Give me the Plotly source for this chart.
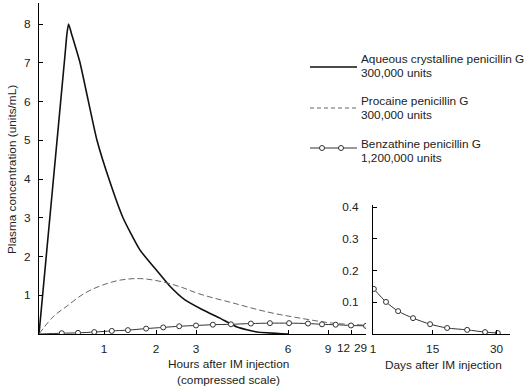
import numpy as np
import plotly.graph_objects as go

# ---- compressed hour scale (tick hours and their positions on the compressed axis)
TICK_HOURS = [0, 1, 2, 3, 6, 9, 12, 29]
TICK_POS = [0, 65, 117, 157, 249, 289, 312, 327]
TICK_SHOWN = [1, 2, 3, 6, 9, 12, 29]
TICK_TEXT = ["1", "2", "3", "6", "9", "12", "29"]

# ---- data (hours, units/mL)
aq_hours = [0, 0.2, 0.4, 0.43, 0.455, 0.5, 0.631, 0.754, 0.892, 1.115, 1.365, 1.69,
            2.025, 2.325, 2.725, 3.23, 3.78, 4.34, 4.99, 6.0]
aq_conc = [0, 3.6, 7.2, 7.75, 8.0, 7.75, 7.0, 6.05, 5.0, 3.92, 3.0, 2.17,
           1.63, 1.26, 0.88, 0.62, 0.41, 0.18, 0.05, 0.0]

pro_hours = [0, 0.215, 0.43, 0.68, 0.94, 1.31, 1.69, 2.1, 2.6, 3.13, 4.21, 5.32, 6.9, 9.65, 29]
pro_conc = [0, 0.44, 0.72, 1.03, 1.24, 1.39, 1.43, 1.36, 1.22, 1.03, 0.8, 0.57, 0.41, 0.28, 0.23]

bz_hours = [0.35, 0.6, 0.85, 1.15, 1.46, 1.81, 2.18, 2.58, 3.0, 3.55, 4.14, 4.79, 5.41, 6.08, 7.5, 8.55, 10.0, 12.0, 29]
bz_conc = [0.02, 0.03, 0.05, 0.08, 0.10, 0.14, 0.17, 0.20, 0.22, 0.24, 0.25, 0.27, 0.28, 0.28, 0.27, 0.25, 0.24, 0.22, 0.21]

bz_days = [1.2, 4.05, 6.9, 10.4, 14.4, 18.4, 23.1, 27.3, 30.3]
bz_day_conc = [0.142, 0.101, 0.072, 0.05, 0.031, 0.019, 0.013, 0.006, 0.003]

legend_names = [("Aqueous crystalline penicillin G", "300,000 units"),
                ("Procaine penicillin G", "300,000 units"),
                ("Benzathine penicillin G", "1,200,000 units")]


def comp(h):
    return np.interp(h, TICK_HOURS, TICK_POS)


W, H = 528, 389
def px(x):
    return x / W
def py(y):
    return 1 - y / H

FONT = "Liberation Sans, Arial, sans-serif"
FS = 11.8
fig = go.Figure()

fig.add_trace(go.Scatter(x=comp(aq_hours), y=aq_conc, mode="lines",
                         line=dict(color="#111", width=1.6, shape="spline", smoothing=0.5),
                         xaxis="x", yaxis="y", showlegend=False))
fig.add_trace(go.Scatter(x=comp(pro_hours), y=pro_conc, mode="lines",
                         line=dict(color="#666", width=1, dash="6px,3px", shape="spline", smoothing=1),
                         xaxis="x", yaxis="y", showlegend=False))
fig.add_trace(go.Scatter(x=np.concatenate([[0], comp(bz_hours)]), y=[0] + bz_conc, mode="lines",
                         line=dict(color="#333", width=1, shape="spline", smoothing=0.8),
                         xaxis="x", yaxis="y", showlegend=False))
fig.add_trace(go.Scatter(x=comp(bz_hours), y=bz_conc, mode="markers",
                         marker=dict(symbol="circle", size=5, color="white", line=dict(color="#333", width=1)),
                         xaxis="x", yaxis="y", showlegend=False))

fig.add_trace(go.Scatter(x=bz_days, y=bz_day_conc, mode="lines+markers",
                         line=dict(color="#333", width=1, shape="spline", smoothing=0.8),
                         marker=dict(symbol="circle", size=5, color="white", line=dict(color="#333", width=1)),
                         xaxis="x2", yaxis="y2", showlegend=False))

axis_common = dict(showline=True, linecolor="black", linewidth=1, ticks="inside", ticklen=4,
                   tickcolor="black", showgrid=False, zeroline=False, automargin=False,
                   tickangle=0, tickfont=dict(family=FONT, size=FS, color="#222"))

# the last two hour labels are crowded: they are drawn as shifted annotations
main_ticktext = TICK_TEXT[:-2] + ["", ""]

fig.update_layout(
    width=W, height=H, margin=dict(l=0, r=0, t=0, b=0, autoexpand=False),
    paper_bgcolor="white", plot_bgcolor="white",
    xaxis=dict(axis_common, domain=[px(39), px(366)], range=[0, 327],
               tickvals=comp(TICK_SHOWN), ticktext=main_ticktext,
               anchor="y", ticklabelstandoff=4),
    yaxis=dict(axis_common, domain=[py(334), py(3)], range=[0, (334 - 3) / 38.75],
               tickvals=[1, 2, 3, 4, 5, 6, 7, 8], anchor="x", ticklabelstandoff=5),
    xaxis2=dict(axis_common, domain=[px(373), px(510)], range=[1, 1 + 137 / 4.26],
                tickvals=[1, 15, 30], anchor="y2", ticklabelstandoff=4),
    yaxis2=dict(axis_common, domain=[py(334), py(205)], range=[0, 129 / 317.5],
                tickvals=[0.1, 0.2, 0.3, 0.4], ticktext=["0.1", "0.2", "0.3", "0.4"],
                anchor="x2", ticklabelstandoff=11),
)

ann_font = dict(family=FONT, size=FS, color="#222")


def note(text, x, y, xanchor="center", **kw):
    return dict(text=text, x=x, y=y, xref=kw.pop("xref", "paper"), yref="paper",
                xanchor=xanchor, yanchor="middle", showarrow=False, font=ann_font, **kw)


annotations = [
    note("Plasma concentration (units/mL)", px(12), py(170), textangle=-90),
    note("Hours after IM injection", px(228), py(364)),
    note("(compressed scale)", px(228), py(380)),
    note("Days after IM injection", px(443), py(365)),
]
for val, txt, shift in ((TICK_SHOWN[-2], TICK_TEXT[-2], -8), (TICK_SHOWN[-1], TICK_TEXT[-1], -6)):
    annotations.append(note(txt, float(comp(val)), py(348), xref="x", xshift=shift))
legend_y = [(59, 73), (101, 115), (144, 158)]
for (l1, l2), (y1, y2) in zip(legend_names, legend_y):
    annotations.append(note(l1, px(359), py(y1), xanchor="left"))
    annotations.append(note(l2, px(359), py(y2), xanchor="left"))
fig.update_layout(annotations=annotations)

shapes = [
    dict(type="line", xref="paper", yref="paper", x0=px(310), x1=px(357), y0=py(67), y1=py(67),
         line=dict(color="#111", width=1.6)),
    dict(type="line", xref="paper", yref="paper", x0=px(310), x1=px(357), y0=py(108), y1=py(108),
         line=dict(color="#666", width=1, dash="4px,3px")),
    dict(type="line", xref="paper", yref="paper", x0=px(310), x1=px(357), y0=py(148), y1=py(148),
         line=dict(color="#333", width=1)),
]
for cx in (322, 341):
    shapes.append(dict(type="circle", xref="paper", yref="paper", x0=px(cx - 2.5), x1=px(cx + 2.5),
                       y0=py(150.5), y1=py(145.5), fillcolor="white", line=dict(color="#333", width=1)))
fig.update_layout(shapes=shapes)

fig.write_html("out.html", config={"displayModeBar": False},
               post_script="document.body.style.margin='0';document.body.style.overflow='hidden';")
